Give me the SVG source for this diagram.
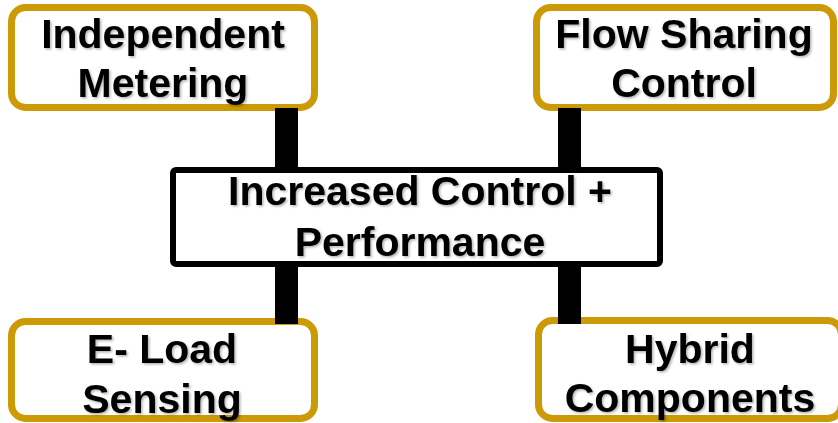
<svg xmlns="http://www.w3.org/2000/svg" width="838" height="423" viewBox="0 0 838 423">
<defs>
<filter id="sh" x="-10%" y="-10%" width="120%" height="130%">
<feDropShadow dx="1.5" dy="1.5" stdDeviation="1" flood-color="#000" flood-opacity="0.3"/>
</filter>
</defs>
<style>
.gold{fill:#fff;stroke:#CC9A06;stroke-width:7}
.center{fill:#fff;stroke:#000;stroke-width:6}
.t{font-family:"Liberation Sans",Arial,sans-serif;font-weight:bold;font-size:41px;fill:#000;text-anchor:middle;filter:url(#sh)}
.bar{fill:#000}
</style>
<rect width="838" height="423" fill="#fff"/>
<g id="center-node">
<rect class="center" x="173" y="170" width="487" height="94" rx="3"/>
<text class="t" x="420" y="205">Increased Control +</text>
<text class="t" x="420" y="256">Performance</text>
</g>
<g id="independent-metering">
<rect class="gold" x="11.5" y="7.5" width="303" height="100" rx="14"/>
<text class="t" x="163" y="48">Independent</text>
<text class="t" x="163" y="97">Metering</text>
</g>
<g id="flow-sharing-control">
<rect class="gold" x="536.5" y="7.5" width="297" height="100" rx="14"/>
<text class="t" x="684" y="48">Flow Sharing</text>
<text class="t" x="684" y="97">Control</text>
</g>
<g id="e-load-sensing">
<rect class="gold" x="11.5" y="321.5" width="303" height="97" rx="14"/>
<text class="t" x="162" y="363">E- Load</text>
<text class="t" x="162" y="413">Sensing</text>
</g>
<g id="hybrid-components">
<rect class="gold" x="538.5" y="320.5" width="303" height="98" rx="14"/>
<text class="t" x="690" y="363">Hybrid</text>
<text class="t" x="690" y="412">Components</text>
</g>
<g id="connectors">
<rect class="bar" x="275" y="108" width="23" height="59"/>
<rect class="bar" x="558" y="108" width="23" height="59"/>
<rect class="bar" x="275" y="267" width="23" height="57"/>
<rect class="bar" x="558" y="267" width="23" height="57"/>
</g>
</svg>
